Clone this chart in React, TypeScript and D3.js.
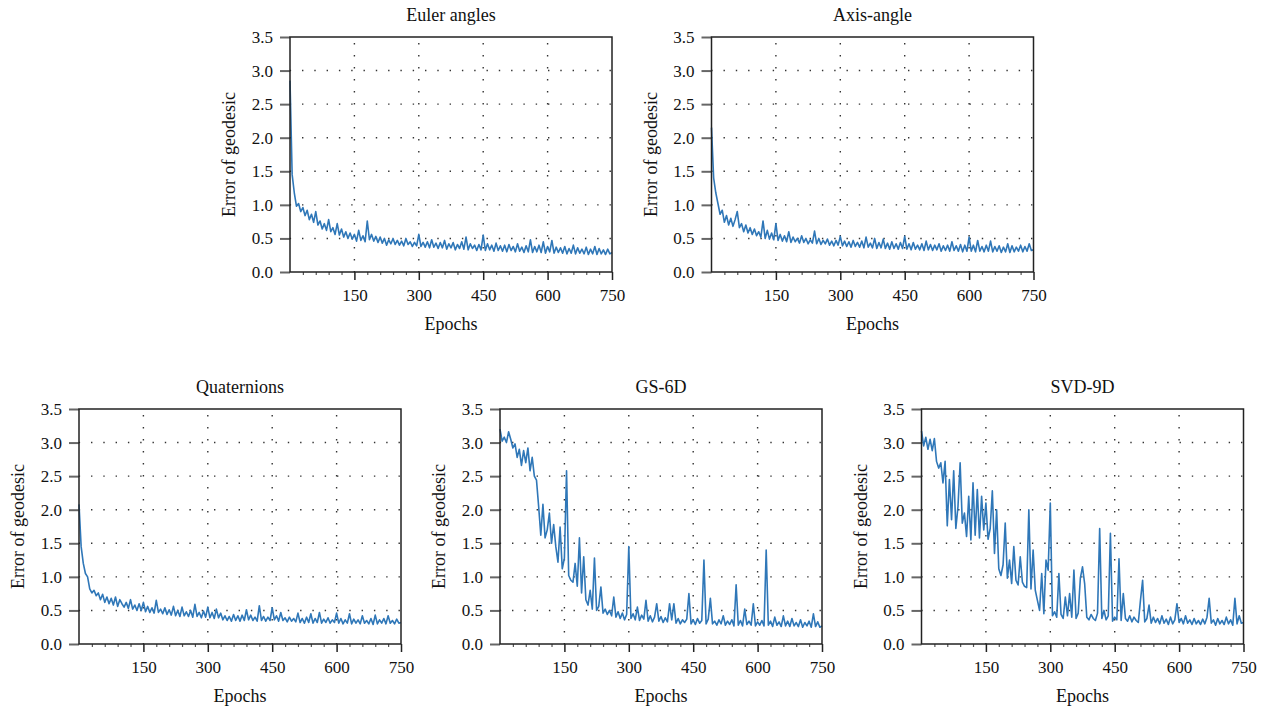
import React, { useEffect, useRef } from 'react';
import * as d3 from 'd3';

// one value every 5 epochs
const epochs = d3.range(0, 751, 5);
const xTicks = [150, 300, 450, 600, 750];
const yTicks = [0, 0.5, 1, 1.5, 2, 2.5, 3, 3.5];
const titles = ['Euler angles', 'Axis-angle', 'Quaternions', 'GS-6D', 'SVD-9D'];

const eulerAngles = [
  2.85, 1.45, 1.18, 0.98, 1.02, 0.90, 0.96, 0.84, 0.92, 0.78,
  0.86, 0.74, 0.90, 0.70, 0.76, 0.64, 0.72, 0.62, 0.78, 0.60,
  0.66, 0.56, 0.72, 0.55, 0.64, 0.52, 0.60, 0.50, 0.58, 0.49,
  0.56, 0.46, 0.62, 0.47, 0.54, 0.45, 0.76, 0.48, 0.56, 0.46,
  0.53, 0.44, 0.52, 0.43, 0.50, 0.40, 0.48, 0.42, 0.50, 0.41,
  0.47, 0.40, 0.46, 0.39, 0.50, 0.41, 0.45, 0.38, 0.44, 0.39,
  0.56, 0.38, 0.44, 0.37, 0.45, 0.36, 0.48, 0.37, 0.43, 0.35,
  0.44, 0.36, 0.47, 0.34, 0.42, 0.36, 0.44, 0.33, 0.41, 0.35,
  0.45, 0.34, 0.52, 0.33, 0.42, 0.35, 0.40, 0.32, 0.41, 0.33,
  0.55, 0.32, 0.42, 0.33, 0.40, 0.31, 0.43, 0.32, 0.39, 0.31,
  0.40, 0.30, 0.41, 0.32, 0.38, 0.30, 0.42, 0.31, 0.37, 0.29,
  0.39, 0.30, 0.48, 0.29, 0.38, 0.30, 0.40, 0.29, 0.45, 0.28,
  0.38, 0.30, 0.47, 0.28, 0.37, 0.29, 0.36, 0.28, 0.38, 0.27,
  0.35, 0.28, 0.40, 0.27, 0.36, 0.28, 0.34, 0.27, 0.37, 0.26,
  0.34, 0.27, 0.38, 0.26, 0.35, 0.27, 0.33, 0.26, 0.34, 0.27,
  0.29,
];

const axisAngle = [
  2.15, 1.40, 1.18, 1.02, 0.86, 0.92, 0.74, 0.84, 0.70, 0.80,
  0.68, 0.78, 0.90, 0.66, 0.72, 0.60, 0.70, 0.58, 0.66, 0.56,
  0.64, 0.54, 0.60, 0.52, 0.76, 0.50, 0.62, 0.49, 0.58, 0.48,
  0.72, 0.47, 0.56, 0.46, 0.54, 0.45, 0.60, 0.44, 0.52, 0.45,
  0.50, 0.43, 0.54, 0.44, 0.50, 0.42, 0.48, 0.43, 0.61, 0.42,
  0.50, 0.41, 0.47, 0.42, 0.49, 0.40, 0.46, 0.39, 0.47, 0.40,
  0.53, 0.39, 0.46, 0.38, 0.45, 0.37, 0.47, 0.38, 0.44, 0.37,
  0.46, 0.36, 0.52, 0.37, 0.43, 0.36, 0.50, 0.35, 0.44, 0.36,
  0.49, 0.35, 0.43, 0.34, 0.45, 0.35, 0.42, 0.34, 0.44, 0.35,
  0.53, 0.34, 0.42, 0.33, 0.44, 0.34, 0.40, 0.33, 0.42, 0.32,
  0.46, 0.33, 0.41, 0.32, 0.40, 0.33, 0.42, 0.31, 0.39, 0.32,
  0.40, 0.31, 0.45, 0.32, 0.39, 0.31, 0.41, 0.30, 0.40, 0.31,
  0.52, 0.31, 0.40, 0.30, 0.47, 0.31, 0.38, 0.30, 0.40, 0.31,
  0.46, 0.30, 0.38, 0.31, 0.39, 0.29, 0.37, 0.30, 0.42, 0.29,
  0.39, 0.30, 0.37, 0.31, 0.40, 0.30, 0.38, 0.31, 0.42, 0.32,
  0.33,
];

const quaternions = [
  2.08, 1.45, 1.20, 1.05, 1.00, 0.82, 0.76, 0.80, 0.72, 0.76,
  0.66, 0.74, 0.62, 0.70, 0.60, 0.68, 0.58, 0.70, 0.56, 0.66,
  0.60, 0.55, 0.62, 0.53, 0.66, 0.52, 0.58, 0.50, 0.60, 0.50,
  0.62, 0.48, 0.56, 0.47, 0.54, 0.46, 0.65, 0.47, 0.52, 0.45,
  0.54, 0.44, 0.51, 0.43, 0.56, 0.42, 0.50, 0.41, 0.55, 0.42,
  0.48, 0.41, 0.50, 0.40, 0.59, 0.41, 0.47, 0.39, 0.49, 0.40,
  0.55, 0.39, 0.47, 0.38, 0.52, 0.39, 0.46, 0.36, 0.42, 0.35,
  0.41, 0.34, 0.44, 0.35, 0.42, 0.34, 0.43, 0.35, 0.51, 0.36,
  0.43, 0.35, 0.40, 0.34, 0.57, 0.35, 0.41, 0.34, 0.40, 0.35,
  0.54, 0.36, 0.42, 0.34, 0.47, 0.35, 0.39, 0.33, 0.40, 0.34,
  0.38, 0.33, 0.46, 0.32, 0.38, 0.31, 0.40, 0.32, 0.45, 0.31,
  0.38, 0.32, 0.47, 0.31, 0.37, 0.32, 0.39, 0.31, 0.36, 0.32,
  0.46, 0.31, 0.38, 0.30, 0.36, 0.31, 0.45, 0.30, 0.37, 0.31,
  0.36, 0.30, 0.42, 0.31, 0.35, 0.30, 0.38, 0.29, 0.43, 0.30,
  0.36, 0.31, 0.38, 0.30, 0.42, 0.31, 0.35, 0.30, 0.37, 0.31,
  0.32,
];

const gs6d = [
  3.20, 3.02, 3.08, 3.00, 3.16, 3.05, 2.92, 2.98, 2.78, 2.90,
  2.66, 2.88, 2.70, 2.92, 2.58, 2.78, 2.50, 2.44, 2.05, 1.62,
  2.08, 1.58, 1.70, 1.95, 1.50, 1.78, 1.45, 1.22, 1.74, 1.12,
  1.28, 2.58, 1.02, 0.95, 0.92, 1.20, 0.86, 1.58, 0.76, 1.30,
  0.66, 0.58, 0.80, 0.52, 1.28, 0.50, 0.56, 0.85, 0.46, 0.52,
  0.44, 0.50, 0.42, 0.70, 0.40, 0.48, 0.38, 0.46, 0.36, 0.44,
  1.45, 0.38, 0.45, 0.36, 0.55, 0.35, 0.43, 0.37, 0.65, 0.34,
  0.42, 0.33, 0.40, 0.60, 0.34, 0.41, 0.32, 0.39, 0.33, 0.60,
  0.36, 0.60, 0.31, 0.38, 0.30, 0.36, 0.32, 0.37, 0.75, 0.30,
  0.36, 0.29, 0.38, 0.31, 0.35, 1.25, 0.30, 0.37, 0.68, 0.30,
  0.34, 0.28, 0.36, 0.30, 0.42, 0.28, 0.34, 0.29, 0.36, 0.27,
  0.88, 0.28, 0.35, 0.27, 0.52, 0.29, 0.34, 0.28, 0.60, 0.27,
  0.33, 0.28, 0.35, 0.27, 1.40, 0.28, 0.34, 0.26, 0.40, 0.28,
  0.33, 0.26, 0.42, 0.27, 0.34, 0.26, 0.38, 0.27, 0.32, 0.26,
  0.36, 0.25, 0.32, 0.27, 0.34, 0.25, 0.45, 0.26, 0.33, 0.25,
  0.27,
];

const svd9d = [
  3.17, 2.95, 3.08, 2.90, 3.05, 2.88, 3.06, 2.72, 2.62, 2.70,
  2.40, 2.72, 1.76, 2.45, 1.85, 2.58, 1.72, 2.05, 2.70, 1.80,
  1.95, 1.60, 2.20, 1.55, 2.40, 1.62, 2.30, 1.58, 2.20, 1.70,
  2.10, 1.56, 1.72, 2.28, 1.35, 2.00, 1.12, 1.02, 1.18, 1.80,
  0.98, 1.25, 0.90, 1.45, 0.95, 0.88, 1.30, 0.92, 0.86, 0.84,
  2.00, 0.82, 1.40, 0.80, 0.65, 0.50, 1.05, 0.45, 1.25, 1.10,
  2.10, 0.42, 0.48, 0.40, 1.05, 0.44, 0.38, 0.70, 0.42, 0.75,
  0.40, 1.10, 0.38, 0.46, 0.98, 1.15, 0.90, 0.40, 0.36, 0.44,
  0.38, 0.35, 0.46, 1.72, 0.38, 0.50, 0.36, 0.42, 1.65, 0.34,
  0.40, 0.36, 1.27, 0.35, 0.75, 0.38, 0.34, 0.42, 0.33, 0.40,
  0.35, 0.32, 0.65, 0.95, 0.33, 0.38, 0.58, 0.31, 0.40, 0.32,
  0.38, 0.30, 0.42, 0.31, 0.37, 0.29, 0.40, 0.30, 0.36, 0.60,
  0.32, 0.38, 0.30, 0.42, 0.31, 0.36, 0.29, 0.38, 0.30, 0.35,
  0.29, 0.37, 0.30, 0.40, 0.68, 0.31, 0.36, 0.28, 0.38, 0.30,
  0.35, 0.29, 0.40, 0.30, 0.36, 0.28, 0.68, 0.30, 0.42, 0.31,
  0.32,
];

const series = [eulerAngles, axisAngle, quaternions, gs6d, svd9d];

const FONT = '"Liberation Serif", "Times New Roman", serif';

function App() {
  const ref = useRef<SVGSVGElement>(null);

  useEffect(() => {
    const svg = d3.select(ref.current);
    svg.selectAll('*').remove();

    const width = 322, height = 235;
    // top-left corner of each plot box
    const origins = [[290, 37], [711.5, 37], [79, 409], [500, 409], [921.5, 409]];

    const x = d3.scaleLinear().domain([0, 750]).range([0, width]);
    const y = d3.scaleLinear().domain([0, 3.5]).range([height, 0]);

    series.forEach((values, k) => {
      const [left, top] = origins[k];
      const g = svg.append('g').attr('transform', `translate(${left},${top})`);

      // dotted grid
      g.append('g')
        .selectAll('line')
        .data(yTicks.slice(1, -1))
        .enter()
        .append('line')
        .attr('x1', 0).attr('x2', width)
        .attr('y1', d => y(d)).attr('y2', d => y(d))
        .attr('stroke', '#333')
        .attr('stroke-width', 1.4)
        .attr('stroke-dasharray', '1.4 10.9')
        .attr('stroke-dashoffset', -12);
      g.append('g')
        .selectAll('line')
        .data(xTicks.slice(0, -1))
        .enter()
        .append('line')
        .attr('x1', d => x(d)).attr('x2', d => x(d))
        .attr('y1', 0).attr('y2', height)
        .attr('stroke', '#333')
        .attr('stroke-width', 1.4)
        .attr('stroke-dasharray', '1.4 10.6')
        .attr('stroke-dashoffset', -6);

      // the curve
      const line = d3.line<number>()
        .x((d, i) => x(epochs[i]))
        .y(d => y(d));
      g.append('path')
        .datum(values)
        .attr('d', line)
        .attr('fill', 'none')
        .attr('stroke', '#2f77b8')
        .attr('stroke-width', 1.6)
        .attr('stroke-linejoin', 'round');

      // y axis
      const yAxis = g.append('g')
        .call(d3.axisLeft(y).tickValues(yTicks).tickSize(10).tickPadding(7)
          .tickFormat(d3.format('.1f') as any));
      yAxis.select('.domain').remove();
      yAxis.selectAll('line').attr('stroke', '#666').attr('stroke-width', 2);
      yAxis.selectAll('text')
        .attr('fill', '#111')
        .style('font-family', FONT)
        .style('font-size', '17px');

      // x axis with minor ticks
      const minor = d3.range(30, 750, 30).filter(d => d % 150 !== 0);
      const xMinor = g.append('g')
        .attr('transform', `translate(0,${height})`)
        .call(d3.axisBottom(x).tickValues(minor).tickSize(3).tickFormat(() => ''));
      xMinor.select('.domain').remove();
      xMinor.selectAll('line').attr('stroke', '#555').attr('stroke-width', 1.2);

      const xAxis = g.append('g')
        .attr('transform', `translate(0,${height})`)
        .call(d3.axisBottom(x).tickValues(xTicks).tickSize(8).tickPadding(9));
      xAxis.select('.domain').remove();
      xAxis.selectAll('line').attr('stroke', '#222').attr('stroke-width', 1.5);
      xAxis.selectAll('text')
        .attr('fill', '#111')
        .style('font-family', FONT)
        .style('font-size', '17px');

      // frame
      g.append('rect')
        .attr('width', width)
        .attr('height', height)
        .attr('fill', 'none')
        .attr('stroke', '#222')
        .attr('stroke-width', 1.5);

      // titles
      g.append('text')
        .attr('x', width / 2)
        .attr('y', -16)
        .attr('text-anchor', 'middle')
        .style('font-family', FONT)
        .style('font-size', '18px')
        .attr('fill', '#111')
        .text(titles[k]);

      g.append('text')
        .attr('x', width / 2)
        .attr('y', height + 58)
        .attr('text-anchor', 'middle')
        .style('font-family', FONT)
        .style('font-size', '18px')
        .attr('fill', '#111')
        .text('Epochs');

      g.append('text')
        .attr('transform', `translate(-55,${height / 2}) rotate(-90)`)
        .attr('text-anchor', 'middle')
        .style('font-family', FONT)
        .style('font-size', '18px')
        .attr('fill', '#111')
        .text('Error of geodesic');
    });
  }, []);

  return (
    <svg
      ref={ref}
      width={1268}
      height={714}
      style={{ position: 'absolute', left: 0, top: 0, background: 'white' }}
    />
  );
}

export default App;
